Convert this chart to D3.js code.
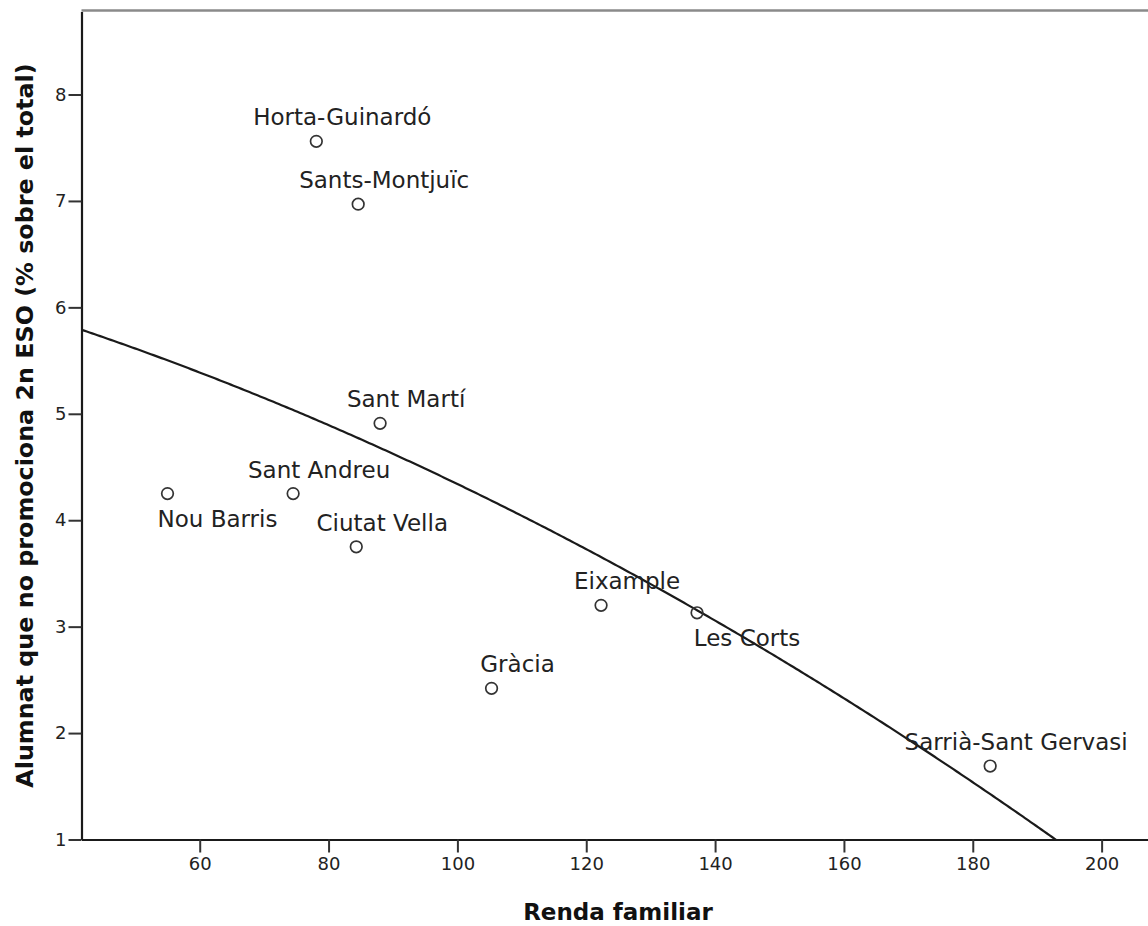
<!DOCTYPE html>
<html>
<head>
<meta charset="utf-8">
<script src="https://cdn.jsdelivr.net/npm/d3@7"></script>
<style>
  html, body { margin: 0; padding: 0; background: #fff; }
  svg { display: block; }
  text { font-family: "DejaVu Sans", sans-serif; }
</style>
</head>
<body>
<svg id="chart" width="1148" height="926"></svg>
<script>
// ---- data ----
const districts = ["Horta-Guinardó", "Sants-Montjuïc", "Sant Martí", "Sant Andreu", "Nou Barris",
                   "Ciutat Vella", "Eixample", "Les Corts", "Gràcia", "Sarrià-Sant Gervasi"];
const renda = [78.1, 84.6, 88.0, 74.5, 55.0, 84.3, 122.3, 137.2, 105.3, 182.7];
const noPromociona = [7.56, 6.97, 4.91, 4.25, 4.25, 3.75, 3.20, 3.13, 2.42, 1.69];
const labelPlacement = ["above", "above", "above", "above", "below",
                        "above", "above", "below", "above", "above"];
const xTicks = [60, 80, 100, 120, 140, 160, 180, 200];
const yTicks = [1, 2, 3, 4, 5, 6, 7, 8];
const xTitle = "Renda familiar";
const yTitle = "Alumnat que no promociona 2n ESO (% sobre el total)";

// ---- layout ----
const svg = d3.select("#chart");
const L = 81.5, R = 1148, T = 11.5, B = 839.5;
const x = d3.scaleLinear().domain([41.65, 207.2]).range([L, R]);
const y = d3.scaleLinear().domain([1, 8.78]).range([B, T]);

// clip for the fit curve
svg.append("defs").append("clipPath").attr("id", "plotclip")
  .append("rect").attr("x", L).attr("y", T).attr("width", R - L).attr("height", B - T);

// top frame line
svg.append("line").attr("x1", L).attr("x2", R).attr("y1", T - 1).attr("y2", T - 1)
  .attr("stroke", "#8a8a8a").attr("stroke-width", 2.5);

// quadratic least squares fit computed from the data
function quadFit(xs, ys) {
  const n = xs.length;
  const mx = d3.mean(xs), my = d3.mean(ys);
  const u = xs.map(v => v - mx);
  const mu2 = d3.mean(u.map(v => v * v));
  const w = u.map(v => v * v - mu2);
  let Suu = 0, Suw = 0, Sww = 0, Suy = 0, Swy = 0;
  for (let i = 0; i < n; i++) {
    const dy = ys[i] - my;
    Suu += u[i] * u[i]; Suw += u[i] * w[i]; Sww += w[i] * w[i];
    Suy += u[i] * dy; Swy += w[i] * dy;
  }
  const det = Suu * Sww - Suw * Suw;
  const b = (Suy * Sww - Suw * Swy) / det;
  const c = (Suu * Swy - Suw * Suy) / det;
  return xv => my + b * (xv - mx) + c * ((xv - mx) * (xv - mx) - mu2);
}
const fit = quadFit(renda, noPromociona);
const [x0, x1] = x.domain();
const curve = d3.range(0, 401).map(i => {
  const xv = x0 + (x1 - x0) * i / 400;
  return [xv, fit(xv)];
});
svg.append("path")
  .datum(curve)
  .attr("clip-path", "url(#plotclip)")
  .attr("fill", "none")
  .attr("stroke", "#1a1a1a")
  .attr("stroke-width", 2.2)
  .attr("d", d3.line().x(d => x(d[0])).y(d => y(d[1])));

// axes
const xAxis = svg.append("g").attr("transform", `translate(0,${B})`)
  .call(d3.axisBottom(x).tickValues(xTicks).tickSize(13).tickSizeOuter(0).tickPadding(5));
const yAxis = svg.append("g").attr("transform", `translate(${L},0)`)
  .call(d3.axisLeft(y).tickValues(yTicks).tickSize(13).tickSizeOuter(0).tickPadding(2));
[xAxis, yAxis].forEach(g => {
  g.select(".domain").attr("stroke", "#1a1a1a").attr("stroke-width", 2.2);
  g.selectAll(".tick line").attr("stroke", "#333").attr("stroke-width", 2);
  g.selectAll(".tick text").attr("fill", "#222").style("font-size", "18px")
    .style("font-family", "'DejaVu Sans', sans-serif");
});

// points
const pts = districts.map((d, i) => ({ name: d, rx: renda[i], ry: noPromociona[i], pos: labelPlacement[i] }));
svg.append("g").selectAll("circle")
  .data(pts)
  .join("circle")
  .attr("cx", d => x(d.rx))
  .attr("cy", d => y(d.ry))
  .attr("r", 5.8)
  .attr("fill", "none")
  .attr("stroke", "#333")
  .attr("stroke-width", 1.7);

// point labels
svg.append("g").selectAll("text")
  .data(pts)
  .join("text")
  .attr("x", d => x(d.rx) + (d.pos === "above" ? 26 : 50))
  .attr("y", d => y(d.ry) + (d.pos === "above" ? -16 : 33))
  .attr("text-anchor", "middle")
  .attr("fill", "#222")
  .style("font-size", "23px")
  .text(d => d.name);

// axis titles
svg.append("text")
  .attr("x", 618).attr("y", 920)
  .attr("text-anchor", "middle")
  .attr("fill", "#111")
  .style("font-size", "23px").style("font-weight", "bold")
  .text(xTitle);
svg.append("text")
  .attr("transform", `translate(33,${(T + B) / 2}) rotate(-90)`)
  .attr("text-anchor", "middle")
  .attr("fill", "#111")
  .style("font-size", "23.8px").style("font-weight", "bold")
  .text(yTitle);
</script>
</body>
</html>
